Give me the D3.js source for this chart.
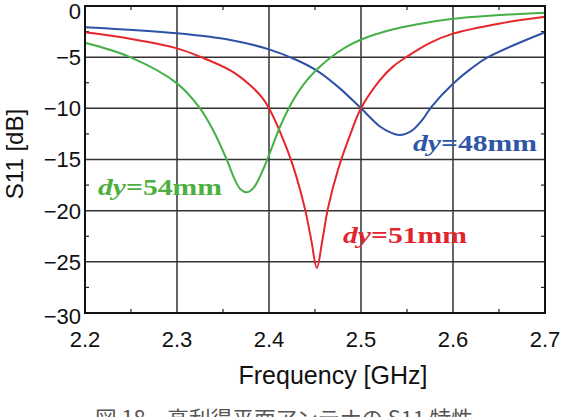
<!DOCTYPE html>
<html>
<head>
<meta charset="utf-8">
<script src="https://cdn.jsdelivr.net/npm/d3@7"></script>
<style>
  body { margin: 0; background: #fff; }
  svg { display: block; }
</style>
</head>
<body>
<svg width="561" height="417"></svg>
<script>
// data (GHz, dB)
var freq54 = [2.200, 2.249, 2.300, 2.325, 2.339, 2.354, 2.363, 2.369, 2.376, 2.383, 2.391, 2.399, 2.412, 2.425, 2.438, 2.452, 2.466, 2.484, 2.501, 2.532, 2.560, 2.600, 2.651, 2.700];
var s11_54 = [-3.6, -5.0, -7.56, -10.0, -12.1, -15.0, -17.0, -17.9, -18.2, -17.8, -16.5, -14.8, -11.8, -9.4, -7.6, -6.2, -5.1, -4.0, -3.25, -2.35, -1.8, -1.25, -0.88, -0.65];

var freq51 = [2.200, 2.249, 2.300, 2.325, 2.358, 2.379, 2.393, 2.400, 2.412, 2.426, 2.439, 2.446, 2.452, 2.458, 2.464, 2.475, 2.489, 2.500, 2.521, 2.535, 2.550, 2.575, 2.600, 2.651, 2.700];
var s11_51 = [-2.57, -3.2, -4.14, -4.95, -6.3, -7.7, -9.0, -10.0, -12.3, -15.6, -19.8, -22.9, -25.6, -22.9, -19.8, -16.0, -12.4, -10.0, -7.2, -5.9, -4.95, -3.6, -2.7, -1.7, -1.05];

var freq48 = [2.200, 2.300, 2.358, 2.400, 2.430, 2.452, 2.477, 2.500, 2.521, 2.532, 2.542, 2.555, 2.566, 2.577, 2.600, 2.620, 2.638, 2.700];
var s11_48 = [-2.08, -2.67, -3.32, -4.24, -5.28, -6.32, -8.05, -10.0, -11.8, -12.35, -12.6, -12.2, -11.2, -9.8, -7.6, -6.1, -5.0, -2.57];

var xTicks = [2.2, 2.3, 2.4, 2.5, 2.6, 2.7];
var yTicks = [0, -5, -10, -15, -20, -25, -30];

var series = [
  {name: "48", f: freq48, v: s11_48, color: "#2d52a6", labelColor: "#2f56a6", lx: 413, ly: 151},
  {name: "51", f: freq51, v: s11_51, color: "#e5262b", labelColor: "#e0262b", lx: 343, ly: 243},
  {name: "54", f: freq54, v: s11_54, color: "#45b045", labelColor: "#4caf40", lx: 98, ly: 195}
];

var svg = d3.select("svg"),
    plotL = 85, plotR = 545, plotT = 6, plotB = 313;

var x = d3.scaleLinear().domain([2.2, 2.7]).range([plotL, plotR]);
var y = d3.scaleLinear().domain([-30, 0]).range([plotB, plotT]);

var g = svg.append("g");

// major grid
g.append("g").selectAll("line")
  .data(xTicks.slice(1, -1))
  .join("line")
    .attr("x1", d => x(d)).attr("x2", d => x(d))
    .attr("y1", plotT).attr("y2", plotB)
    .attr("stroke", "#333").attr("stroke-width", 1.5);

g.append("g").selectAll("line")
  .data(yTicks.slice(1, -1))
  .join("line")
    .attr("x1", plotL).attr("x2", plotR)
    .attr("y1", d => y(d)).attr("y2", d => y(d))
    .attr("stroke", "#333").attr("stroke-width", 1.5);

// minor ticks, inside the frame
var xMinor = d3.range(5).map(i => 2.25 + i * 0.1);
var yMinor = d3.range(6).map(i => -2.5 - i * 5);
var minor = g.append("g").attr("stroke", "#222").attr("stroke-width", 1.2);
xMinor.forEach(function(d) {
  minor.append("line").attr("x1", x(d)).attr("x2", x(d)).attr("y1", plotB).attr("y2", plotB - 4);
  minor.append("line").attr("x1", x(d)).attr("x2", x(d)).attr("y1", plotT).attr("y2", plotT + 4);
});
yMinor.forEach(function(d) {
  minor.append("line").attr("x1", plotL).attr("x2", plotL + 4).attr("y1", y(d)).attr("y2", y(d));
  minor.append("line").attr("x1", plotR).attr("x2", plotR - 4).attr("y1", y(d)).attr("y2", y(d));
});

// curves
var line = d3.line()
  .x(d => x(d[0]))
  .y(d => y(d[1]))
  .curve(d3.curveCatmullRom.alpha(0.5));

g.append("g").selectAll("path")
  .data(series)
  .join("path")
    .attr("fill", "none")
    .attr("stroke", d => d.color)
    .attr("stroke-width", 2)
    .attr("d", d => line(d.f.map((f, i) => [f, d.v[i]])));

// frame
g.append("rect")
  .attr("x", plotL).attr("y", plotT)
  .attr("width", plotR - plotL).attr("height", plotB - plotT)
  .attr("fill", "none").attr("stroke", "#111").attr("stroke-width", 2);

// tick labels
g.append("g").selectAll("text")
  .data(yTicks)
  .join("text")
    .attr("x", 81)
    .attr("y", d => d === 0 ? 11 : (d === -30 ? y(d) + 3 : y(d)))
    .attr("dy", "0.36em")
    .attr("text-anchor", "end")
    .attr("font-family", "Liberation Sans, Arial, sans-serif")
    .attr("font-size", 22)
    .attr("fill", "#111")
    .text(d => d === 0 ? "0" : "\u2212" + Math.abs(d));

g.append("g").selectAll("text")
  .data(xTicks)
  .join("text")
    .attr("x", d => x(d))
    .attr("y", 347)
    .attr("text-anchor", "middle")
    .attr("font-family", "Liberation Sans, Arial, sans-serif")
    .attr("font-size", 22)
    .attr("fill", "#111")
    .text(d => d.toFixed(1));

// axis titles
svg.append("text")
  .attr("x", 333).attr("y", 384)
  .attr("text-anchor", "middle")
  .attr("font-family", "Liberation Sans, Arial, sans-serif")
  .attr("font-size", 25)
  .attr("fill", "#111")
  .text("Frequency [GHz]");

svg.append("text")
  .attr("transform", "translate(15,154) rotate(-90)")
  .attr("text-anchor", "middle")
  .attr("dy", "0.35em")
  .attr("font-family", "Liberation Sans, Arial, sans-serif")
  .attr("font-size", 24)
  .attr("fill", "#111")
  .text("S11 [dB]");

// series labels
series.forEach(function(s) {
  var t = svg.append("text")
    .attr("x", s.lx).attr("y", s.ly)
    .attr("font-family", "Liberation Serif, Times New Roman, serif")
    .attr("font-weight", "bold")
    .attr("font-size", 24)
    .attr("fill", s.labelColor)
    .attr("textLength", 124)
    .attr("lengthAdjust", "spacingAndGlyphs");
  t.append("tspan").attr("font-style", "italic").text("dy");
  t.append("tspan").text("=" + s.name + "mm");
});

// caption (cut off at the bottom edge, as in the source)
svg.append("text")
  .attr("x", 95).attr("y", 426)
  .attr("font-family", "Noto Sans CJK JP, sans-serif")
  .attr("font-size", 21)
  .attr("fill", "#555")
  .attr("textLength", 378)
  .attr("lengthAdjust", "spacingAndGlyphs")
  .text("図 18　高利得平面アンテナの S11 特性");
</script>
</body>
</html>
